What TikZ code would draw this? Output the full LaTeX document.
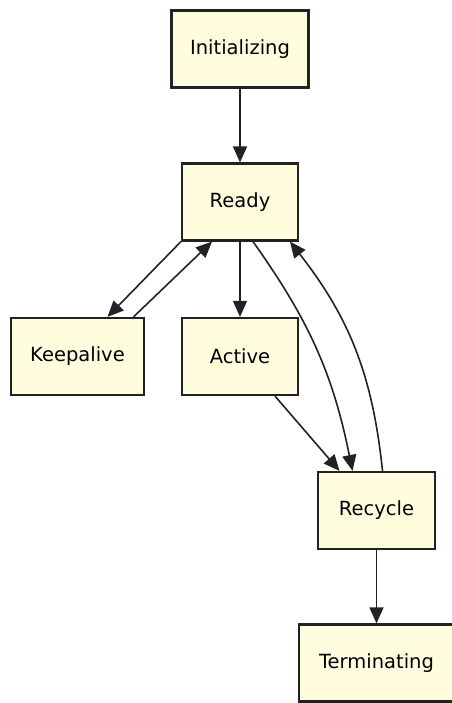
\documentclass[tikz,border=0pt]{standalone}
\usepackage{fontspec}
\setmainfont{DejaVu Sans}
\usetikzlibrary{arrows.meta}
\definecolor{boxfill}{HTML}{FFFDDE}
\definecolor{edgecol}{HTML}{222222}
\begin{document}
\begin{tikzpicture}[x=1pt,y=-1pt,>={Triangle[length=16pt,width=14pt]},
  state/.style={draw=edgecol,line width=2.2pt,fill=boxfill,inner sep=0pt,minimum height=77pt,font=\fontsize{19.5}{22}\selectfont},
  trans/.style={->,line width=1.6pt,draw=edgecol}]
  \useasboundingbox (0,0) rectangle (451,703);
  \node[state,minimum width=137pt] (init) at (240,49) {Initializing};
  \node[state,minimum width=116pt] (ready) at (240,202) {Ready};
  \node[state,minimum width=133pt] (keep) at (77.5,356.5) {Keepalive};
  \node[state,minimum width=116pt] (active) at (240,356.5) {Active};
  \node[state,minimum width=117pt] (recycle) at (376.5,510.5) {Recycle};
  \node[state,minimum width=155pt] (term) at (376.5,663) {Terminating};
  \draw[trans] (init) -- (ready);
  \draw[trans] (ready.south west) -- ([xshift=30pt]keep.north);
  \draw[trans] ([xshift=56pt]keep.north) -- ([xshift=-28pt]ready.south);
  \draw[trans] (ready) -- (active);
  \draw[trans] ([xshift=13pt]ready.south) to[bend left=12] ([xshift=-24pt]recycle.north);
  \draw[trans] ([xshift=6pt]recycle.north) to[bend right=16] ([xshift=50pt]ready.south);
  \draw[trans] ([xshift=35pt]active.south) -- ([xshift=-37pt]recycle.north);
  \draw[trans] (recycle) -- (term);
\end{tikzpicture}
\end{document}
